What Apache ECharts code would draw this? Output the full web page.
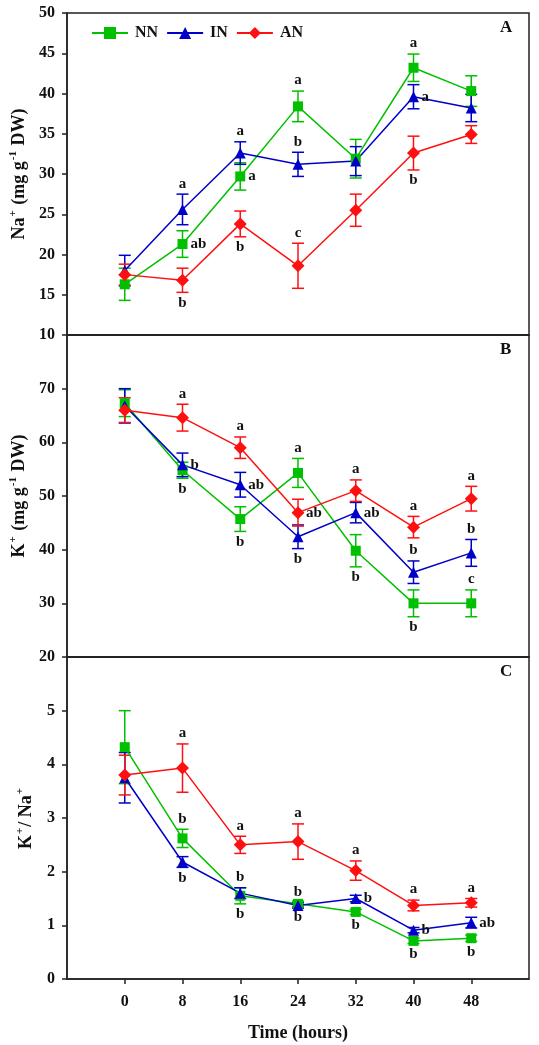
<!DOCTYPE html>
<html>
<head>
    <meta charset="utf-8"/>
    <style>
        html, body {
            height: 100%;
            margin: 0;
            padding: 0;
            background: #fff;
        }

        .container {
            width: 539px;
            height: 1045px;
        }
    </style>
</head>

<body>
<div id="main" class="container"></div>
<script src="https://cdn.jsdelivr.net/npm/echarts@6/dist/echarts.min.js"></script>
<script type="text/javascript">
// time points (hours)
var times = [0, 8, 16, 24, 32, 40, 48];
var xTicks = [0, 8, 16, 24, 32, 40, 48];

// A: Na+ (mg g-1 DW)
var naNN = [16.3, 21.3, 29.7, 38.4, 31.9, 43.2, 40.3];
var naNNErr = [2.0, 1.65, 1.7, 1.9, 2.4, 1.7, 1.9];
var naIN = [18.0, 25.6, 32.6, 31.2, 31.6, 39.6, 38.2];
var naINErr = [1.9, 1.9, 1.4, 1.5, 1.8, 1.5, 1.7];
var naAN = [17.5, 16.8, 23.8, 18.6, 25.5, 32.6, 34.9];
var naANErr = [1.3, 1.5, 1.6, 2.8, 2.0, 2.1, 1.1];
var naTicks = [10, 15, 20, 25, 30, 35, 40, 45, 50];

// B: K+ (mg g-1 DW)
var kNN = [67.3, 54.8, 45.7, 54.3, 39.8, 30.0, 30.0];
var kNNErr = [2.5, 1.5, 2.3, 2.7, 3.0, 2.5, 2.5];
var kIN = [66.8, 55.8, 52.1, 42.4, 46.9, 35.8, 39.4];
var kINErr = [3.2, 2.2, 2.3, 2.2, 1.9, 2.1, 2.5];
var kAN = [66.0, 64.6, 59.0, 46.9, 51.0, 44.2, 49.5];
var kANErr = [2.3, 2.5, 2.0, 2.5, 2.0, 2.0, 2.3];
var kTicks = [20, 30, 40, 50, 60, 70];

// C: K+/Na+
var rNN = [4.32, 2.62, 1.55, 1.40, 1.25, 0.71, 0.76];
var rNNErr = [0.68, 0.17, 0.15, 0.05, 0.05, 0.05, 0.06];
var rIN = [3.75, 2.18, 1.60, 1.37, 1.50, 0.91, 1.05];
var rINErr = [0.47, 0.10, 0.10, 0.05, 0.06, 0.05, 0.10];
var rAN = [3.80, 3.93, 2.50, 2.56, 2.02, 1.37, 1.42];
var rANErr = [0.37, 0.45, 0.16, 0.33, 0.18, 0.10, 0.08];
var rTicks = [0, 1, 2, 3, 4, 5];

// significance letters: [time, treatment, letter, place]
var naLetters = [
    [8, 'IN', 'a', 'top'], [8, 'NN', 'ab', 'right'], [8, 'AN', 'b', 'bottom'],
    [16, 'IN', 'a', 'top'], [16, 'NN', 'a', 'right'], [16, 'AN', 'b', 'bottom'],
    [24, 'NN', 'a', 'top'], [24, 'IN', 'b', 'top'], [24, 'AN', 'c', 'top'],
    [40, 'NN', 'a', 'top'], [40, 'IN', 'a', 'right'], [40, 'AN', 'b', 'bottom']
];
var kLetters = [
    [8, 'AN', 'a', 'top'], [8, 'IN', 'b', 'right'], [8, 'NN', 'b', 'bottom'],
    [16, 'AN', 'a', 'top'], [16, 'IN', 'ab', 'right'], [16, 'NN', 'b', 'bottom'],
    [24, 'NN', 'a', 'top'], [24, 'AN', 'ab', 'right'], [24, 'IN', 'b', 'bottom'],
    [32, 'AN', 'a', 'top'], [32, 'IN', 'ab', 'right'], [32, 'NN', 'b', 'bottom'],
    [40, 'AN', 'a', 'top'], [40, 'IN', 'b', 'top'], [40, 'NN', 'b', 'bottom'],
    [48, 'AN', 'a', 'top'], [48, 'IN', 'b', 'top'], [48, 'NN', 'c', 'top']
];
var rLetters = [
    [8, 'AN', 'a', 'top'], [8, 'NN', 'b', 'top'], [8, 'IN', 'b', 'bottom'],
    [16, 'AN', 'a', 'top'], [16, 'IN', 'b', 'top'], [16, 'NN', 'b', 'bottom'],
    [24, 'AN', 'a', 'top'], [24, 'IN', 'b', 'top'], [24, 'NN', 'b', 'bottom'],
    [32, 'AN', 'a', 'top'], [32, 'IN', 'b', 'right'], [32, 'NN', 'b', 'bottom'],
    [40, 'AN', 'a', 'top'], [40, 'IN', 'b', 'right'], [40, 'NN', 'b', 'bottom'],
    [48, 'AN', 'a', 'top'], [48, 'IN', 'ab', 'right'], [48, 'NN', 'b', 'bottom']
];

var colors = {NN: '#00c000', IN: '#0000c8', AN: '#ff1010'};
var symbols = {NN: 'rect', IN: 'triangle', AN: 'diamond'};
var symbolSizes = {NN: 10, IN: 11, AN: 13};
var serif = '"Liberation Serif", "Times New Roman", serif';
var axisColor = '#222';

var panels = [
    {min: 10, max: 50, interval: 5, ticks: naTicks, letters: naLetters,
        data: {NN: [naNN, naNNErr], IN: [naIN, naINErr], AN: [naAN, naANErr]},
        name: '{b|Na}{s|+}{b| (mg g}{s|-1}{b| DW)}'},
    {min: 20, max: 80, interval: 10, ticks: kTicks, letters: kLetters,
        data: {NN: [kNN, kNNErr], IN: [kIN, kINErr], AN: [kAN, kANErr]},
        name: '{b|K}{s|+}{b| (mg g}{s|-1}{b| DW)}'},
    {min: 0, max: 6, interval: 1, ticks: rTicks, letters: rLetters,
        data: {NN: [rNN, rNNErr], IN: [rIN, rINErr], AN: [rAN, rANErr]},
        name: '{b|K}{s|+}{b|/ Na}{s|+}'}
];

var gridTops = [13, 335, 657];
var gridH = 322;

function errRender(params, api) {
    var x = api.value(0);
    var lo = api.coord([x, api.value(1)]);
    var hi = api.coord([x, api.value(2)]);
    var w = 6;
    var st = {stroke: api.visual('color'), lineWidth: 1.5};
    return {
        type: 'group',
        children: [
            {type: 'line', shape: {x1: lo[0], y1: lo[1], x2: hi[0], y2: hi[1]}, style: st},
            {type: 'line', shape: {x1: lo[0] - w, y1: lo[1], x2: lo[0] + w, y2: lo[1]}, style: st},
            {type: 'line', shape: {x1: hi[0] - w, y1: hi[1], x2: hi[0] + w, y2: hi[1]}, style: st}
        ]
    };
}

function makeLetterRender(letters) {
    return function (params, api) {
        var item = letters[params.dataIndex];
        var p = api.coord([api.value(0), api.value(1)]);
        var x = p[0], y = p[1], align = 'center', va = 'middle';
        if (item[3] === 'top') { y -= 3; va = 'bottom'; }
        else if (item[3] === 'bottom') { y += 3; va = 'top'; }
        else { x += 8; align = 'left'; }
        return {
            type: 'text',
            x: x, y: y,
            style: {
                text: item[2], fill: '#111',
                font: 'bold 15px ' + serif,
                align: align, verticalAlign: va,
                textAlign: align, textVerticalAlign: va
            }
        };
    };
}

var myChart = echarts.init(document.getElementById('main'));

var option = {
    animation: false,
    backgroundColor: '#fff',
    grid: [],
    xAxis: [],
    yAxis: [],
    series: [],
    legend: {
        data: ['NN', 'IN', 'AN'],
        left: 86,
        top: 20,
        itemWidth: 36,
        itemHeight: 15,
        itemGap: 8,
        selectedMode: false,
        textStyle: {fontFamily: serif, fontWeight: 'bold', fontSize: 16, color: '#111', padding: [0, 0, 0, 2]}
    },
    graphic: []
};

var panelNames = ['A', 'B', 'C'];
var labelY = [28, 350, 672];

panels.forEach(function (pan, i) {
    var last = i === panels.length - 1;
    option.grid.push({
        left: 67, right: 10, top: gridTops[i], height: gridH,
        containLabel: false, outerBoundsMode: 'none',
        show: true, borderColor: axisColor, borderWidth: 1.5
    });
    option.xAxis.push({
        type: 'value', gridIndex: i, min: -8, max: 56, interval: 8,
        axisLine: {show: true, onZero: false, lineStyle: {color: axisColor, width: 1.5}},
        axisTick: {show: last, length: 5, lineStyle: {color: axisColor, width: 1.5},
            customValues: xTicks},
        splitLine: {show: false},
        axisLabel: {
            show: last, margin: 15, fontFamily: serif, fontWeight: 'bold', fontSize: 16, color: '#111',
            customValues: xTicks
        },
        name: last ? 'Time (hours)' : '',
        nameLocation: 'middle',
        nameGap: 45,
        nameTextStyle: {fontFamily: serif, fontWeight: 'bold', fontSize: 18, color: '#111'}
    });
    option.yAxis.push({
        type: 'value', gridIndex: i, min: pan.min, max: pan.max, interval: pan.interval,
        axisLine: {show: true, onZero: false, lineStyle: {color: axisColor, width: 1.5}},
        axisTick: {show: true, length: 5, lineStyle: {color: axisColor, width: 1.5},
            customValues: pan.ticks},
        splitLine: {show: false},
        axisLabel: {
            margin: 12, fontFamily: serif, fontWeight: 'bold', fontSize: 16, color: '#111',
            customValues: pan.ticks
        },
        name: pan.name,
        nameLocation: 'middle',
        nameRotate: 90,
        nameGap: 30,
        nameTextStyle: {
            rich: {
                b: {fontFamily: serif, fontWeight: 'bold', fontSize: 18, color: '#111', lineHeight: 22},
                s: {fontFamily: serif, fontWeight: 'bold', fontSize: 11, color: '#111', verticalAlign: 'top', lineHeight: 22, padding: [0, 1, 0, 1]}
            }
        }
    });

    ['NN', 'IN', 'AN'].forEach(function (key) {
        var vals = pan.data[key][0], errs = pan.data[key][1];
        option.series.push({
            type: 'custom',
            xAxisIndex: i, yAxisIndex: i,
            renderItem: errRender,
            itemStyle: {color: colors[key]},
            silent: true,
            z: 2,
            data: times.map(function (t, j) { return [t, vals[j] - errs[j], vals[j] + errs[j]]; })
        });
    });
    ['NN', 'IN', 'AN'].forEach(function (key) {
        var vals = pan.data[key][0];
        option.series.push({
            name: key,
            type: 'line',
            xAxisIndex: i, yAxisIndex: i,
            symbol: symbols[key],
            symbolSize: symbolSizes[key],
            lineStyle: {color: colors[key], width: 1.5},
            itemStyle: {color: colors[key]},
            z: 3,
            data: times.map(function (t, j) { return [t, vals[j]]; })
        });
    });
    option.series.push({
        type: 'custom',
        xAxisIndex: i, yAxisIndex: i,
        renderItem: makeLetterRender(pan.letters),
        silent: true,
        z: 4,
        data: pan.letters.map(function (l) {
            var j = times.indexOf(l[0]);
            var v = pan.data[l[1]][0][j], e = pan.data[l[1]][1][j];
            var anchor = l[3] === 'top' ? v + e : (l[3] === 'bottom' ? v - e : v);
            return [l[0], anchor];
        })
    });

    option.graphic.push({
        type: 'text', left: 500, top: labelY[i] - 9,
        style: {text: panelNames[i], font: 'bold 17px ' + serif, fill: '#111'}
    });
});

myChart.setOption(option);
</script>
</body>
</html>
